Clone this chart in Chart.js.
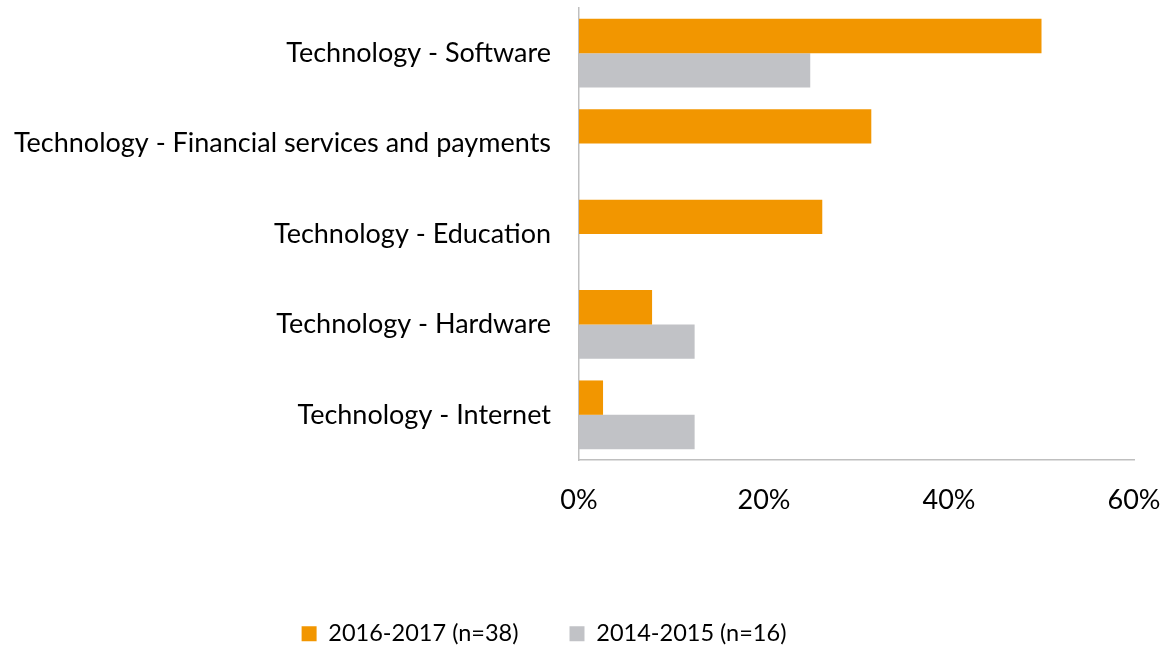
<!DOCTYPE html>
<html>
<head>
<meta charset="utf-8">
<script src="https://cdn.jsdelivr.net/npm/chart.js@4.4.1/dist/chart.umd.min.js"></script>
<style>
  html, body { margin: 0; padding: 0; background: #fff; }
  #wrap { width: 1171px; height: 653px; }
</style>
</head>
<body>
<div id="wrap"><canvas id="grafico"></canvas></div>
<script>
const categorias = [
  "Technology - Software",
  "Technology - Financial services and payments",
  "Technology - Education",
  "Technology - Hardware",
  "Technology - Internet",
];
const valores2016 = [50, 31.6, 26.3, 7.9, 2.6];
const valores2014 = [25, 0, 0, 12.5, 12.5];
const ticksX = [0, 20, 40, 60];

const fonte = "Lato";

// empurra a legenda para baixo, longe dos rotulos do eixo x
const ajusteLegenda = {
  id: "ajusteLegenda",
  beforeInit(chart) {
    const fitOriginal = chart.legend.fit;
    chart.legend.fit = function () {
      fitOriginal.bind(chart.legend)();
      this.height = 82;
    };
  },
  afterLayout(chart) {
    chart.legend.left -= 23;
    chart.legend.right -= 23;
  },
};

const ctx = document.querySelector("#grafico");

new Chart(ctx, {
  type: "bar",
  data: {
    labels: categorias,
    datasets: [
      {
        label: "2016-2017 (n=38)",
        data: valores2016,
        backgroundColor: "#f29600",
        barPercentage: 1,
        categoryPercentage: 0.76,
      },
      {
        label: "2014-2015 (n=16)",
        data: valores2014,
        backgroundColor: "#c1c2c6",
        barPercentage: 1,
        categoryPercentage: 0.76,
      },
    ],
  },
  options: {
    indexAxis: "y",
    responsive: true,
    maintainAspectRatio: false,
    animation: false,
    layout: { padding: { top: 8, right: 37, left: 0, bottom: 0 } },
    plugins: {
      tooltip: { enabled: false },
      legend: {
        position: "bottom",
        labels: {
          boxWidth: 15,
          boxHeight: 15,
          padding: 51,
          color: "#000",
          font: { family: fonte, size: 23.5 },
        },
      },
    },
    scales: {
      x: {
        min: 0,
        max: 60,
        afterBuildTicks(scale) {
          scale.ticks = ticksX.map((v) => ({ value: v }));
        },
        afterFit(scale) {
          scale.height = 111;
          scale.paddingLeft = 0;
          scale.paddingRight = 0;
        },
        grid: { display: false },
        border: { color: "#bfbfbf", width: 1.5 },
        ticks: {
          padding: 16,
          color: "#000",
          font: { family: fonte, size: 27 },
          callback: (v) => v + "%",
        },
      },
      y: {
        afterFit(scale) {
          scale.width = 579;
          scale.paddingTop = 0;
          scale.paddingBottom = 0;
        },
        grid: { display: false },
        border: { color: "#bfbfbf", width: 1.5 },
        ticks: {
          padding: 20,
          color: "#000",
          font: { family: fonte, size: 27 },
        },
      },
    },
  },
  plugins: [ajusteLegenda],
});
</script>
</body>
</html>
